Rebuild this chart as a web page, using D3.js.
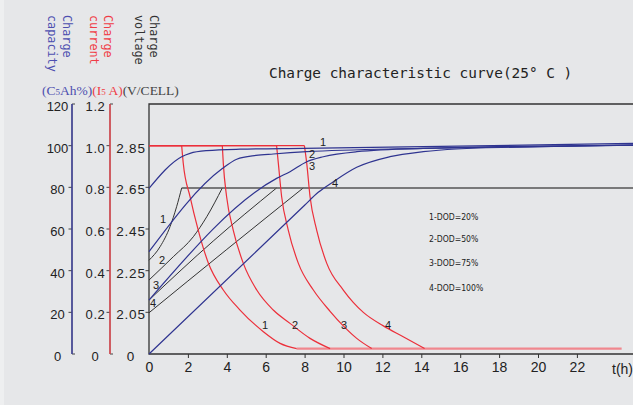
<!DOCTYPE html>
<html>
<head>
<meta charset="utf-8">
<script src="https://cdn.jsdelivr.net/npm/d3@7"></script>
<style>
  body { margin: 0; background: #e6e7e9; }
  svg { display: block; }
</style>
</head>
<body>
<div id="chart"></div>
<script>
// tick values
const hourTicks = [0, 2, 4, 6, 8, 10, 12, 14, 16, 18, 20, 22];
const capTicks = [0, 20, 40, 60, 80, 100, 120];
const currentTicks = [0, 0.2, 0.4, 0.6, 0.8, 1.0, 1.2];
const voltTicks = [1.85, 2.05, 2.25, 2.45, 2.65, 2.85];
const voltTickLabels = ["0", "2.05", "2.25", "2.45", "2.65", "2.85"];
const dodLabels = ["1-DOD=20%", "2-DOD=50%", "3-DOD=75%", "4-DOD=100%"];

// [hours, volts per cell]; last point is the constant-voltage plateau
const voltage1 = [[0, 2.3], [0.57, 2.365], [1.08, 2.461], [1.42, 2.557], [1.68, 2.647], [25, 2.647]];
const voltage2 = [[0, 2.205], [1.25, 2.317], [2.28, 2.413], [2.97, 2.509], [3.77, 2.647], [25, 2.647]];
const voltage3 = [[0, 2.109], [3.3, 2.392], [6.56, 2.647], [25, 2.647]];
const voltage4 = [[0, 2.048], [4, 2.352], [7.93, 2.647], [25, 2.647]];

// [hours, current in I5 A]; first two points are the constant-current part
const current1 = [[0, 1.0], [1.68, 1.0], [1.76, 0.917], [2.11, 0.755], [2.53, 0.595], [3.05, 0.437], [3.82, 0.307], [4.68, 0.211], [5.88, 0.107], [6.74, 0.051], [7.59, 0.026]];
const current2 = [[0, 1.0], [3.77, 1.0], [3.82, 0.915], [3.99, 0.755], [4.33, 0.595], [4.85, 0.435], [5.54, 0.307], [6.39, 0.211], [7.25, 0.147], [8.28, 0.075], [9.31, 0.026]];
const current3 = [[0, 1.0], [6.56, 1.0], [6.65, 0.915], [6.82, 0.755], [7.16, 0.595], [7.68, 0.435], [8.45, 0.307], [9.31, 0.205], [9.99, 0.135], [10.68, 0.075], [11.45, 0.026]];
const current4 = [[0, 1.0], [7.99, 1.0], [8.11, 0.915], [8.28, 0.755], [8.62, 0.595], [9.14, 0.435], [9.99, 0.307], [10.5, 0.248], [11.02, 0.2], [12.05, 0.135], [13.07, 0.083], [14.17, 0.026]];
const currentFloor = [[7.59, 0.026], [24.3, 0.026]];

// [hours, capacity C5Ah%]
const capacity1 = [[0, 79.5], [1.68, 94.7], [2.11, 96.3], [2.97, 97.6], [4.68, 98.3], [7.93, 98.7], [14.1, 99.5], [25, 101.1]];
const capacity2 = [[0, 49.1], [3.77, 89.0], [4.51, 93.5], [5.5, 95.3], [6.39, 96.0], [8.11, 97.1], [14.1, 98.7], [25, 100.3]];
const capacity3 = [[0, 25.9], [6.56, 84.3], [7.25, 87.5], [8.11, 92.3], [8.96, 94.7], [10.68, 97.1], [14.1, 98.7], [25, 100.3]];
const capacity4 = [[0, 0], [8.0, 71.4], [8.7, 77.6], [9.48, 82.7], [10.68, 89.6], [12.39, 94.7], [14.1, 97.1], [15.8, 98.4], [20, 99.5], [25, 100.3]];

const width = 633, height = 405;
const plotLeft = 149, plotRight = 633, plotTop = 104, plotBottom = 354;

const svg = d3
  .select("#chart")
  .append("svg")
  .attr("width", width)
  .attr("height", height);

svg.append("rect").attr("width", width).attr("height", height).attr("fill", "#e6e7e9");
svg.append("rect").attr("width", 4).attr("height", height).attr("fill", "#eeeff0");

const x = d3.scaleLinear().domain([0, 24]).range([plotLeft, plotLeft + 24 * 19.45]);
const yCap = d3.scaleLinear().domain([0, 120]).range([plotBottom, plotTop]);
const yCur = d3.scaleLinear().domain([0, 1.2]).range([plotBottom, plotTop]);
const yVolt = d3.scaleLinear().domain([1.85, 3.05]).range([plotBottom, plotTop]);

const blue = "#2f3490", red = "#ec2f3a";

// rotated axis names
const names = [
  { lines: ["Charge", "capacity"], x: 67, color: "#4d4fb0" },
  { lines: ["Charge", "current"], x: 108.5, color: "#f03c46" },
  { lines: ["Charge", "voltage"], x: 154, color: "#333" }
];
names.forEach((n) => {
  n.lines.forEach((s, i) => {
    svg
      .append("text")
      .attr("transform", `translate(${n.x - i * 14.5},15) rotate(90)`)
      .attr("dy", "0.35em")
      .text(s)
      .style("font-family", "DejaVu Sans Mono")
      .style("font-size", "11.8px")
      .style("fill", n.color);
  });
});

// unit line
const units = svg
  .append("text")
  .attr("x", 42)
  .attr("y", 95)
  .style("font-family", "Liberation Serif")
  .style("font-size", "13.5px");
units.append("tspan").style("fill", "#4d4fb0").text("(C");
units.append("tspan").style("fill", "#4d4fb0").style("font-size", "9px").text("5");
units.append("tspan").style("fill", "#4d4fb0").text("Ah%)");
units.append("tspan").style("fill", "#f03c46").text("(I");
units.append("tspan").style("fill", "#f03c46").style("font-size", "9px").text("5");
units.append("tspan").style("fill", "#f03c46").text(" A)");
units.append("tspan").style("fill", "#444").text("(V/CELL)");

// title
svg
  .append("text")
  .attr("x", 269)
  .attr("y", 78)
  .text("Charge characteristic curve(25° C )")
  .style("font-family", "DejaVu Sans Mono")
  .style("font-size", "14.4px")
  .style("fill", "#222");

// left axes
const drawAxis = function (xPos, scale, ticks, labels, color, labelX, fontSize, spacing) {
  const g = svg.append("g");
  ticks.forEach((t, i) => {
    const yy = scale(t);
    if (i > 0 && i < ticks.length - 1) {
      g.append("line")
        .attr("x1", xPos - 3.5).attr("x2", xPos)
        .attr("y1", yy).attr("y2", yy)
        .attr("stroke", "#444").attr("stroke-width", 1);
    }
    g.append("text")
      .attr("x", labelX)
      .attr("y", yy + 7)
      .attr("text-anchor", "middle")
      .text(labels[i])
      .style("font-family", "Liberation Sans, Arial")
      .style("font-size", fontSize)
      .style("letter-spacing", spacing)
      .style("fill", "#222");
  });
  if (color) {
    g.append("path")
      .attr("d", `M${xPos + 3},${plotTop} H${xPos} V${plotBottom} H${xPos + 3}`)
      .attr("fill", "none")
      .attr("stroke", "#444")
      .attr("stroke-width", 1);
    g.append("line")
      .attr("x1", xPos).attr("x2", xPos)
      .attr("y1", plotTop).attr("y2", plotBottom)
      .attr("stroke", color).attr("stroke-width", 1.4);
  }
};
drawAxis(72, yCap, capTicks, capTicks.map(String), "#3d3f9e", 57.5, "13px", "0px");
drawAxis(110, yCur, currentTicks, currentTicks.map((d) => (d === 0 ? "0" : d.toFixed(1))), "#e8454d", 95.5, "13px", "0.6px");
drawAxis(plotLeft, yVolt, voltTicks, voltTickLabels, null, 131, "13.5px", "0.8px");

// bottom axis
const xAxis = d3
  .axisBottom(x)
  .tickValues(hourTicks)
  .tickSize(4)
  .tickSizeOuter(0)
  .tickFormat(d3.format("d"));
const xg = svg.append("g").attr("transform", `translate(0,${plotBottom})`).call(xAxis);
xg.select(".domain").remove();
xg.selectAll("line").attr("stroke", "#333");
xg.selectAll(".tick").filter((d) => d === 0).select("line").remove();
xg.selectAll("text")
  .attr("y", 8)
  .attr("dy", "0.71em")
  .style("font-family", "Liberation Sans, Arial")
  .style("font-size", "14px")
  .style("fill", "#222");
svg
  .append("text")
  .attr("x", 612)
  .attr("y", 374)
  .text("t(h)")
  .style("font-family", "Liberation Sans, Arial")
  .style("font-size", "14px")
  .style("fill", "#222");

// frame
svg
  .append("path")
  .attr("d", `M${plotRight},${plotTop} H${plotLeft} V${plotBottom} H${plotRight}`)
  .attr("fill", "none")
  .attr("stroke", "#333")
  .attr("stroke-width", 1.3);

const plot = svg.append("g");

const voltLine = d3.line().x((d) => x(d[0])).y((d) => yVolt(d[1])).curve(d3.curveMonotoneX);
const curLine = d3.line().x((d) => x(d[0])).y((d) => yCur(d[1])).curve(d3.curveMonotoneX);
const capLine = d3.line().x((d) => x(d[0])).y((d) => yCap(d[1])).curve(d3.curveMonotoneX);

// voltage: rising part smooth, plateau straight
[voltage1, voltage2, voltage3, voltage4].forEach((s) => {
  plot.append("path").attr("d", voltLine(s.slice(0, -1))).attr("fill", "none").attr("stroke", "#333").attr("stroke-width", 1);
});
plot
  .append("line")
  .attr("x1", x(voltage1[voltage1.length - 2][0])).attr("x2", plotRight)
  .attr("y1", yVolt(voltage1[voltage1.length - 1][1])).attr("y2", yVolt(voltage1[voltage1.length - 1][1]))
  .attr("stroke", "#555").attr("stroke-width", 1.4);

// current: constant part straight, tapering part smooth
plot
  .append("path")
  .attr("d", curLine(currentFloor))
  .attr("fill", "none")
  .attr("stroke", "#f0878e")
  .attr("stroke-width", 2.2);
[current1, current2, current3, current4].forEach((s) => {
  plot.append("path").attr("d", d3.line().x((d) => x(d[0])).y((d) => yCur(d[1]))(s.slice(0, 2)))
    .attr("fill", "none").attr("stroke", red).attr("stroke-width", 1.2);
  plot.append("path").attr("d", curLine(s.slice(1))).attr("fill", "none").attr("stroke", red).attr("stroke-width", 1.2);
});

[capacity1, capacity2, capacity3, capacity4].forEach((s) => {
  plot.append("path").attr("d", capLine(s)).attr("fill", "none").attr("stroke", blue).attr("stroke-width", 1.2);
});

// curve numbers
const curveTags = [
  ["1", 163, 223], ["2", 162, 264], ["3", 156, 289], ["4", 153, 307],
  ["1", 265, 329], ["2", 295, 329], ["3", 344, 329], ["4", 388, 329],
  ["1", 323, 146], ["2", 312, 158], ["3", 312, 170], ["4", 335, 187]
];
curveTags.forEach((c) => {
  svg
    .append("text")
    .attr("x", c[1])
    .attr("y", c[2])
    .attr("text-anchor", "middle")
    .text(c[0])
    .style("font-family", "Liberation Sans, Arial")
    .style("font-size", "11px")
    .style("fill", "#222");
});

// legend
dodLabels.forEach((s, i) => {
  svg
    .append("text")
    .attr("x", 429)
    .attr("y", [220, 242, 265.5, 290.5][i])
    .text(s)
    .style("font-family", "DejaVu Sans Condensed")
    .style("font-size", "8.6px")
    .style("fill", "#222");
});
</script>
</body>
</html>
